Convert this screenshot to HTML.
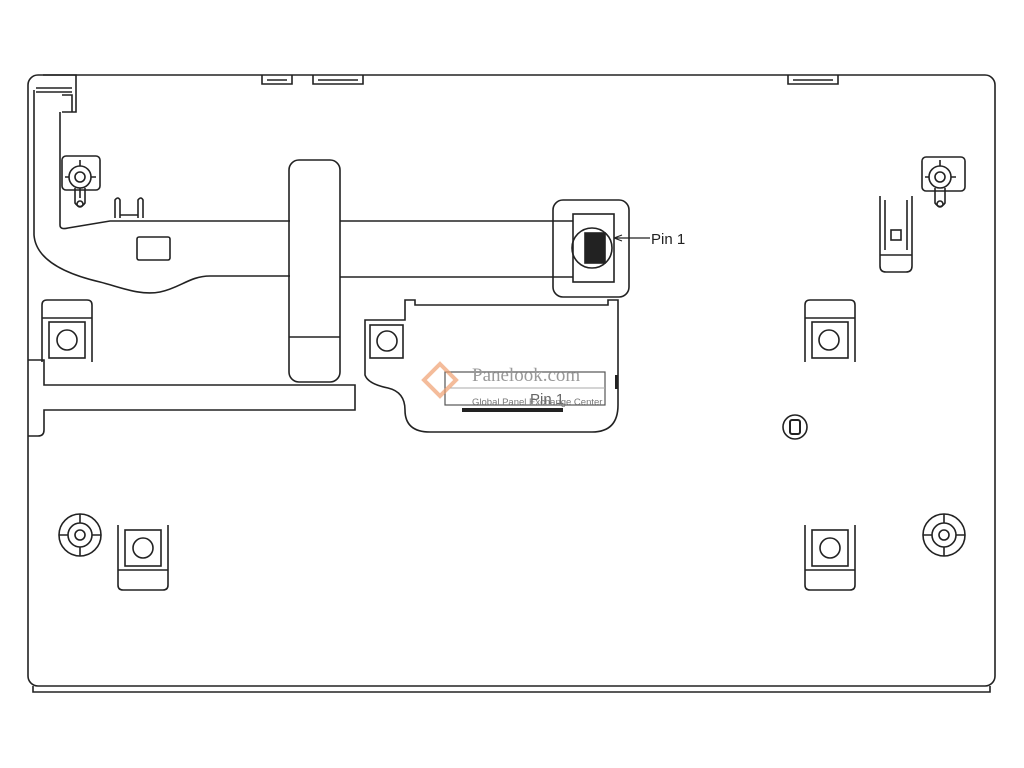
<!DOCTYPE html>
<html><head><meta charset="utf-8"><style>html,body{margin:0;padding:0;background:#fff;}svg{display:block}</style></head>
<body>
<svg width="1024" height="768" viewBox="0 0 1024 768" xmlns="http://www.w3.org/2000/svg" fill="none" stroke="#222" stroke-width="1.6" font-family="Liberation Sans, sans-serif">
<rect x="28" y="75" width="967" height="611" rx="10"/>
<path d="M33 686 V692 H990 V686"/>
<path d="M262 75 V84 H292 V75 M267 80 H287"/>
<path d="M313 75 V84 H363 V75 M318 80 H358"/>
<path d="M788 75 V84 H838 V75 M793 80 H833"/>
<path d="M43 75 H76 V112 H62 M36 88 H72 M36 92 H72 M62 95 H72 V112"/>
<path d="M34 90 V235 C36 262 70 275 100 282 C120 287 140 296 160 292 C180 288 190 276 210 276 H290"/>
<path d="M60 112 V225 Q60 230 68 228 L110 221 H290"/>
<path d="M340 221 H573 M340 277 H573"/>
<rect x="137" y="237" width="33" height="23" rx="2"/>
<path d="M115 218 V200 Q118 196 120 200 V218 M138 218 V200 Q141 196 143 200 V218 M120 215 H138"/>
<rect x="289" y="160" width="51" height="222" rx="10"/>
<path d="M289 337 H340"/>
<path d="M28 360 H44 V385 H355 V410 H44 V430 Q44 436 38 436 H28"/>
<rect x="553" y="200" width="76" height="97" rx="10"/>
<rect x="573" y="214" width="41" height="68"/>
<circle cx="592" cy="248" r="20"/>
<rect x="585" y="233" width="20" height="30" fill="#222"/>
<path d="M614 238 L650 238 M614 238 L622 235 M614 238 L622 241" stroke-width="1.2"/>
<text x="651" y="244" font-size="15" fill="#222" stroke="none">Pin 1</text>
<path d="M405 320 V300 H415 V305 H608 V300 H618 V405 Q618 432 592 432 H430 Q405 432 405 410 Q405 392 388 388 Q368 384 365 375 V320 Z"/>
<rect x="370" y="325" width="33" height="33"/>
<circle cx="387" cy="341" r="10"/>
<rect x="445" y="372" width="160" height="33" stroke="#555" stroke-width="1.2"/>
<path d="M450 388 H605" stroke="#aaa" stroke-width="1"/>
<rect x="462" y="408" width="101" height="4" fill="#222" stroke="none"/>
<rect x="615" y="375" width="3" height="14" fill="#222" stroke="none"/>
<path d="M440 364 L456 380 L440 396 L424 380 Z" stroke="#f0a070" stroke-width="4" opacity="0.7"/>
<text x="472" y="381" font-size="19" fill="#999" stroke="none" font-family="Liberation Serif, serif">Panelook.com</text>
<text x="530" y="404" font-size="15" fill="#666" stroke="none">Pin 1</text>
<text x="472" y="405" font-size="9.5" fill="#777" stroke="none">Global Panel Exchange Center</text>
<g><path d="M42 362 V305 Q42 300 47 300 H87 Q92 300 92 305 V362 M42 318 H92"/><rect x="49" y="322" width="36" height="36"/><circle cx="67" cy="340" r="10"/></g>
<g><path d="M805 362 V305 Q805 300 810 300 H850 Q855 300 855 305 V362 M805 318 H855"/><rect x="812" y="322" width="36" height="36"/><circle cx="829" cy="340" r="10"/></g>
<g><path d="M118 525 V585 Q118 590 123 590 H163 Q168 590 168 585 V525 M118 570 H168"/><rect x="125" y="530" width="36" height="36"/><circle cx="143" cy="548" r="10"/></g>
<g><path d="M805 525 V585 Q805 590 810 590 H850 Q855 590 855 585 V525 M805 570 H855"/><rect x="812" y="530" width="36" height="36"/><circle cx="830" cy="548" r="10"/></g>
<path d="M880 196 V266 Q880 272 886 272 H906 Q912 272 912 266 V196 M880 255 H912 M885 200 V250 M907 200 V250"/>
<rect x="891" y="230" width="10" height="10"/>
<g><rect x="62" y="156" width="38" height="34" rx="4"/><circle cx="80" cy="177" r="11"/><circle cx="80" cy="177" r="5"/><path d="M80 160 V166 M80 188 V198 M65 177 H69 M91 177 H96"/><path d="M75 188 V203 Q80 210 85 203 V188"/><circle cx="80" cy="204" r="3"/></g>
<g><rect x="922" y="157" width="43" height="34" rx="4"/><circle cx="940" cy="177" r="11"/><circle cx="940" cy="177" r="5"/><path d="M940 160 V166 M925 177 H929 M951 177 H956"/><path d="M935 188 V203 Q940 210 945 203 V188"/><circle cx="940" cy="204" r="3"/></g>
<g><circle cx="80" cy="535" r="21"/><circle cx="80" cy="535" r="12"/><circle cx="80" cy="535" r="5"/><path d="M80 514 V523 M80 547 V556 M59 535 H68 M92 535 H101"/></g>
<g><circle cx="944" cy="535" r="21"/><circle cx="944" cy="535" r="12"/><circle cx="944" cy="535" r="5"/><path d="M944 514 V523 M944 547 V556 M923 535 H932 M956 535 H965"/></g>
<circle cx="795" cy="427" r="12"/><rect x="790" y="420" width="10" height="14" rx="2" stroke-width="2"/>
</svg>
</body></html>
